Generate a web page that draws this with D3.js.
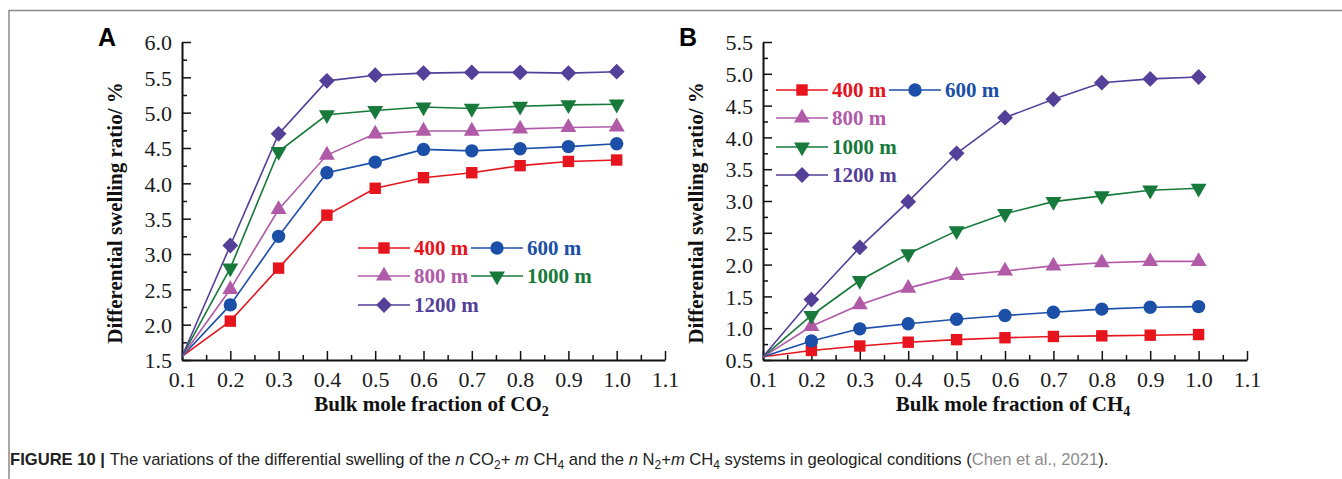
<!DOCTYPE html>
<html>
<head>
<meta charset="utf-8">
<script src="https://cdn.jsdelivr.net/npm/d3@7"></script>
<style>
  body { margin: 0; background: #fff; }
  svg text { font-family: "Liberation Serif", "Times New Roman", serif; }
</style>
</head>
<body>
<div class="fig"></div>
<script>
var w = 1342;
var h = 479;

var fractions = [0.1, 0.2, 0.3, 0.4, 0.5, 0.6, 0.7, 0.8, 0.9, 1.0];
var depths = ["400 m", "600 m", "800 m", "1000 m", "1200 m"];
var colors = ["#e5141d", "#1b4fa8", "#b05aa8", "#17793a", "#543f99"];
var shapes = ["square", "circle", "triangle", "down", "diamond"];

// panel A: n CO2 + m CH4
var co2_400 = [1.55, 2.05, 2.80, 3.55, 3.93, 4.08, 4.15, 4.25, 4.31, 4.33];
var co2_600 = [1.55, 2.28, 3.25, 4.15, 4.30, 4.48, 4.46, 4.49, 4.52, 4.56];
var co2_800 = [1.55, 2.50, 3.63, 4.40, 4.70, 4.74, 4.74, 4.77, 4.79, 4.80];
var co2_1000 = [1.55, 2.80, 4.45, 4.97, 5.03, 5.08, 5.06, 5.09, 5.11, 5.12];
var co2_1200 = [1.55, 3.12, 4.70, 5.45, 5.53, 5.56, 5.57, 5.57, 5.56, 5.58];

// panel B: n N2 + m CH4
var ch4_400 = [0.55, 0.65, 0.72, 0.78, 0.82, 0.85, 0.87, 0.88, 0.89, 0.90];
var ch4_600 = [0.55, 0.80, 0.99, 1.07, 1.14, 1.20, 1.25, 1.30, 1.33, 1.34];
var ch4_800 = [0.55, 1.03, 1.37, 1.63, 1.83, 1.90, 1.98, 2.03, 2.05, 2.05];
var ch4_1000 = [0.55, 1.20, 1.75, 2.17, 2.53, 2.80, 2.99, 3.08, 3.17, 3.20];
var ch4_1200 = [0.55, 1.45, 2.27, 2.99, 3.75, 4.31, 4.60, 4.86, 4.92, 4.95];

var xTicks = [0.1, 0.2, 0.3, 0.4, 0.5, 0.6, 0.7, 0.8, 0.9, 1.0, 1.1];
var yTicksA = [1.5, 2.0, 2.5, 3.0, 3.5, 4.0, 4.5, 5.0, 5.5, 6.0];
var yTicksB = [0.5, 1.0, 1.5, 2.0, 2.5, 3.0, 3.5, 4.0, 4.5, 5.0, 5.5];

var svg = d3.select(".fig").append("svg")
  .attr("width", w)
  .attr("height", h);

// page frame
svg.append("path")
  .attr("d", "M9,479 V10.5 H1342")
  .attr("fill", "none")
  .attr("stroke", "#8a8a8a")
  .attr("stroke-width", 1.5);

function symbolPath(shape) {
  if (shape == "square") return d3.symbol(d3.symbolSquare, 130)();
  if (shape == "circle") return d3.symbol(d3.symbolCircle, 140)();
  if (shape == "diamond") return d3.symbol(d3.symbolSquare, 125)();
  return d3.symbol(d3.symbolTriangle, 110)();
}
function symbolRotate(shape) {
  if (shape == "down") return 180;
  if (shape == "diamond") return 45;
  return 0;
}

function drawPanel(opt) {
  var x = d3.scaleLinear().domain([0.1, 1.1]).range([opt.left, opt.right]);
  var y = d3.scaleLinear().domain(opt.yDomain).range([opt.bottom, opt.top]);
  var g = svg.append("g");

  // minor ticks
  var minorX = d3.range(0.15, 1.1, 0.1);
  g.append("g")
    .attr("transform", "translate(0," + opt.bottom + ")")
    .call(d3.axisBottom(x).tickValues(minorX).tickSizeInner(-5).tickSizeOuter(0).tickFormat(""))
    .call(function(a) { a.select(".domain").remove(); })
    .selectAll("line").attr("stroke", "#111").attr("stroke-width", 1.5);
  var minorY = d3.range(opt.yDomain[0] + 0.25, opt.yDomain[1], 0.5);
  g.append("g")
    .attr("transform", "translate(" + opt.left + ",0)")
    .call(d3.axisLeft(y).tickValues(minorY).tickSizeInner(-5).tickSizeOuter(0).tickFormat(""))
    .call(function(a) { a.select(".domain").remove(); })
    .selectAll("line").attr("stroke", "#111").attr("stroke-width", 1.5);

  var xAxis = g.append("g")
    .attr("transform", "translate(0," + opt.bottom + ")")
    .call(d3.axisBottom(x).tickValues(xTicks).tickSizeInner(-9).tickSizeOuter(0).tickPadding(7).tickFormat(d3.format(".1f")));
  var yAxis = g.append("g")
    .attr("transform", "translate(" + opt.left + ",0)")
    .call(d3.axisLeft(y).tickValues(opt.yTicks).tickSizeInner(-9).tickSizeOuter(0).tickPadding(10).tickFormat(d3.format(".1f")));
  [xAxis, yAxis].forEach(function(a) {
    a.selectAll("line").attr("stroke", "#111").attr("stroke-width", 1.5);
    a.select(".domain").attr("stroke", "#111").attr("stroke-width", 2);
    a.selectAll("text")
      .attr("fill", "#1a1a1a")
      .style("font-family", "'Liberation Serif', serif")
      .style("font-size", "22px");
  });
  xAxis.selectAll("text").attr("dy", "0.9em");
  yAxis.selectAll("text").attr("dy", "0.35em");

  // series
  var line = d3.line()
    .x(function(d, i) { return x(fractions[i]); })
    .y(function(d) { return y(d); });
  opt.series.forEach(function(s, k) {
    g.append("path")
      .attr("d", line(s))
      .attr("fill", "none")
      .attr("stroke", colors[k])
      .attr("stroke-width", 1.6);
  });
  opt.series.forEach(function(s, k) {
    g.selectAll(".m" + k)
      .data(s.slice(1))
      .enter().append("path")
      .attr("transform", function(d, i) {
        return "translate(" + x(fractions[i + 1]) + "," + y(d) + ") rotate(" + symbolRotate(shapes[k]) + ")";
      })
      .attr("d", symbolPath(shapes[k]))
      .attr("fill", colors[k]);
  });

  // legend
  opt.legend.forEach(function(item) {
    var k = item.k;
    var lg = g.append("g").attr("transform", "translate(" + item.x + "," + item.y + ")");
    lg.append("line").attr("x1", 0).attr("x2", 52).attr("stroke", colors[k]).attr("stroke-width", 1.6);
    lg.append("path")
      .attr("transform", "translate(26,0) rotate(" + symbolRotate(shapes[k]) + ")")
      .attr("d", symbolPath(shapes[k]))
      .attr("fill", colors[k]);
    lg.append("text")
      .attr("x", 56).attr("y", 7)
      .attr("fill", colors[k])
      .attr("font-weight", "bold")
      .style("font-size", "21px")
      .text(depths[k]);
  });

  // titles
  var xt = g.append("text")
    .attr("x", (opt.left + opt.right) / 2 + 8)
    .attr("y", opt.bottom + 51)
    .attr("text-anchor", "middle")
    .attr("font-weight", "bold")
    .style("font-size", "21px")
    .attr("fill", "#111")
    .text("Bulk mole fraction of " + opt.gas[0]);
  xt.append("tspan").attr("dy", 5).style("font-size", "14px").text(opt.gas[1]);

  g.append("text")
    .attr("transform", "translate(" + (opt.left - 60) + "," + ((opt.top + opt.bottom) / 2 + 12) + ") rotate(-90)")
    .attr("text-anchor", "middle")
    .attr("font-weight", "bold")
    .style("font-size", "21px")
    .attr("fill", "#111")
    .text("Differential swelling ratio/ %");

  g.append("text")
    .attr("x", opt.left - 84)
    .attr("y", opt.top + 4)
    .attr("font-weight", "bold")
    .style("font-family", "'Liberation Sans', Arial, sans-serif")
    .style("font-size", "25px")
    .attr("fill", "#000")
    .text(opt.label);
}

drawPanel({
  label: "A",
  left: 182, right: 665, top: 42, bottom: 360,
  yDomain: [1.5, 6.0], yTicks: yTicksA,
  gas: ["CO", "2"],
  series: [co2_400, co2_600, co2_800, co2_1000, co2_1200],
  legend: [
    { k: 0, x: 358, y: 248 }, { k: 1, x: 471, y: 248 },
    { k: 2, x: 358, y: 276 }, { k: 3, x: 471, y: 276 },
    { k: 4, x: 358, y: 305 }
  ]
});

drawPanel({
  label: "B",
  left: 763, right: 1247, top: 42, bottom: 360,
  yDomain: [0.5, 5.5], yTicks: yTicksB,
  gas: ["CH", "4"],
  series: [ch4_400, ch4_600, ch4_800, ch4_1000, ch4_1200],
  legend: [
    { k: 0, x: 776, y: 90 }, { k: 1, x: 889, y: 90 },
    { k: 2, x: 776, y: 118 },
    { k: 3, x: 776, y: 147 },
    { k: 4, x: 776, y: 175 }
  ]
});

// caption
var cap = svg.append("text")
  .attr("x", 10)
  .attr("y", 465)
  .style("font-family", "'Liberation Sans', Arial, sans-serif")
  .style("font-size", "16.6px")
  .attr("fill", "#222");
cap.append("tspan").attr("font-weight", "bold").text("FIGURE 10 | ");
cap.append("tspan").text("The variations of the differential swelling of the ");
cap.append("tspan").attr("font-style", "italic").text("n");
cap.append("tspan").text(" CO");
cap.append("tspan").attr("dy", 4).style("font-size", "12px").text("2");
cap.append("tspan").attr("dy", -4).text("+ ");
cap.append("tspan").attr("font-style", "italic").text("m");
cap.append("tspan").text(" CH");
cap.append("tspan").attr("dy", 4).style("font-size", "12px").text("4");
cap.append("tspan").attr("dy", -4).text(" and the ");
cap.append("tspan").attr("font-style", "italic").text("n");
cap.append("tspan").text(" N");
cap.append("tspan").attr("dy", 4).style("font-size", "12px").text("2");
cap.append("tspan").attr("dy", -4).text("+");
cap.append("tspan").attr("font-style", "italic").text("m");
cap.append("tspan").text(" CH");
cap.append("tspan").attr("dy", 4).style("font-size", "12px").text("4");
cap.append("tspan").attr("dy", -4).text(" systems in geological conditions (");
cap.append("tspan").attr("fill", "#8c8c8c").text("Chen et al., 2021");
cap.append("tspan").text(").");
</script>
</body>
</html>
